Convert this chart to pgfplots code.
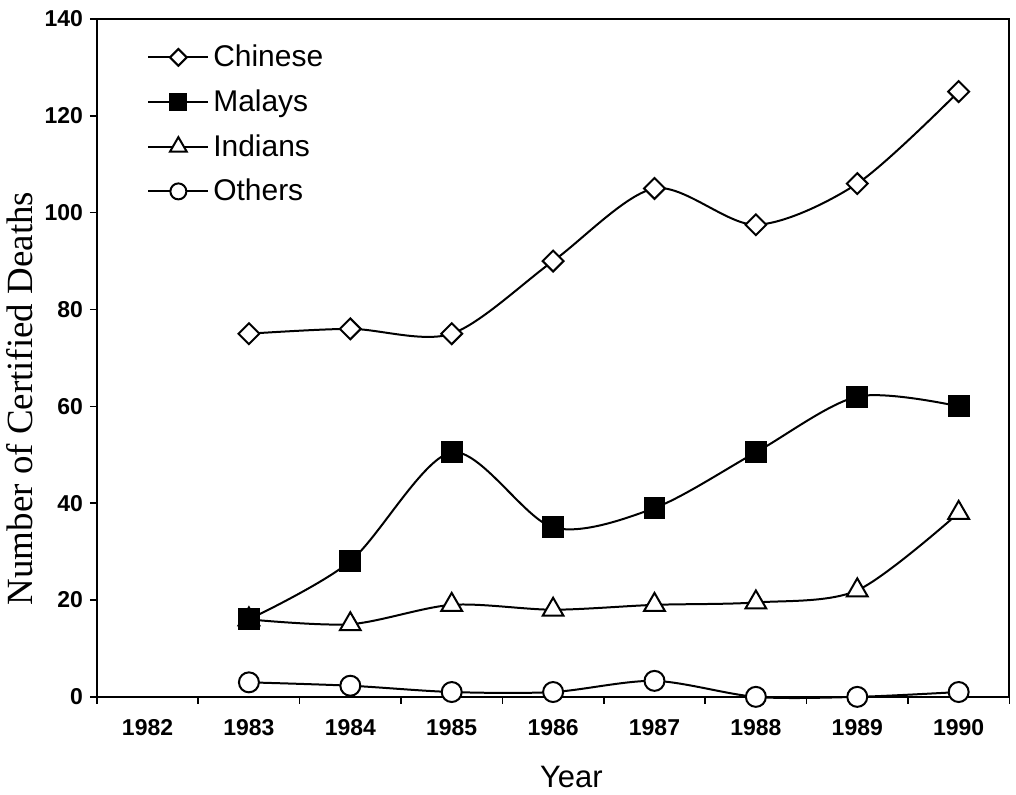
\documentclass[border=0pt]{standalone}
\usepackage{fontspec}
\setmainfont{Liberation Sans}
\newfontfamily\seriffont{Liberation Serif}
\usepackage{pgfplots}
\pgfplotsset{compat=1.18}
\begin{document}
\begin{tikzpicture}
\begin{axis}[
 name=ax,
 scale only axis, width=457pt, height=339.5pt,
 xmin=1981.5, xmax=1990.5, ymin=0, ymax=140,
 axis line style={line width=1pt},
 xtick={1981.5,1982.5,...,1990.5}, xticklabels={},
 extra x ticks={1982,1983,1984,1985,1986,1987,1988,1989,1990},
 extra x tick style={major tick length=0pt, xticklabel style={yshift=-8pt}},
 ytick={0,20,...,140},
 tick align=outside, xtick pos=bottom, ytick pos=left,
 major tick length=3.5pt,
 tick style={line width=0.8pt, black},
 ticklabel style={font=\fontsize{11.5}{13}\selectfont\bfseries},
 /pgf/number format/1000 sep={}, /pgf/number format/assume math mode=true,
 xlabel={Year}, ylabel={Number of Certified Deaths},
 xlabel style={font=\fontsize{15.5}{18}\selectfont, at={(axis description cs:0.52,0)}, anchor=center, yshift=-40pt},
 ylabel style={font=\seriffont\fontsize{18.5}{20}\selectfont, at={(axis description cs:0,0.44)}, anchor=center, yshift=38.5pt},
 legend style={draw=none, fill=none, at={(axis description cs:0.055,0.968)}, anchor=north west, font=\fontsize{15}{17}\selectfont, row sep=6pt, inner sep=0pt},
 legend cell align=left,
 legend image code/.code={\draw[mark repeat=2, mark phase=2, #1, every mark/.append style={scale=0.8}] plot coordinates {(0pt,0pt) (15pt,0pt) (30pt,0pt)};},
 clip=false,
 every axis plot/.append style={line width=1pt, smooth, tension=0.5, black},
]
\addplot[mark=square*, mark size=3.7pt, mark options={rotate=45, fill=white, line width=1pt}] coordinates {
 (1983,75) (1984,76) (1985,75) (1986,90) (1987,105) (1988,97.5) (1989,106) (1990,125)};
\addlegendentry{Chinese}
\addplot[forget plot, mark=triangle*, mark size=6pt, mark options={fill=white, line width=1pt}] coordinates {
 (1983,16) (1984,15) (1985,19) (1986,18) (1987,19) (1988,19.5) (1989,22) (1990,38)};
\addplot[mark=square*, mark size=5pt, mark options={fill=black}] coordinates {
 (1983,16) (1984,28) (1985,50.5) (1986,35) (1987,39) (1988,50.5) (1989,62) (1990,60)};
\addlegendentry{Malays}
\addlegendimage{line width=1pt, black, mark=triangle*, mark size=6pt, mark options={fill=white, line width=1pt}}
\addlegendentry{Indians}
\addplot[mark=*, mark size=5pt, mark options={fill=white, line width=1pt}] coordinates {
 (1983,3) (1984,2.3) (1985,1) (1986,1) (1987,3.3) (1988,0) (1989,0) (1990,1)};
\addlegendentry{Others}
\end{axis}
\path ([xshift=-48.5pt,yshift=-47pt]ax.south west) rectangle ([xshift=2.5pt,yshift=9.5pt]ax.north east);
\end{tikzpicture}
\end{document}
